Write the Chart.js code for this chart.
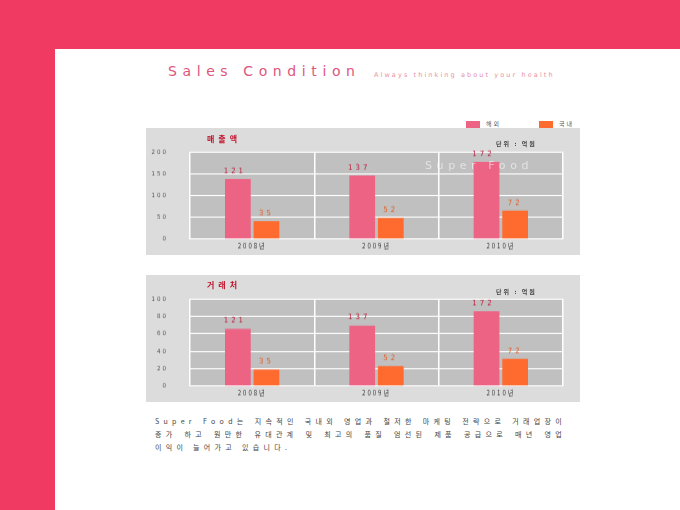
<!DOCTYPE html>
<html>
<head>
<meta charset="utf-8">
<script src="https://cdn.jsdelivr.net/npm/chart.js@4"></script>
<style>
  html, body { margin: 0; padding: 0; }
  body { width: 680px; height: 510px; background: #f03a62; position: relative; overflow: hidden;
         font-family: "Noto Sans CJK KR", "DejaVu Sans", sans-serif; }
  #sheet { position: absolute; left: 55px; top: 49px; width: 625px; height: 461px; background: #fff; }
  .abs { position: absolute; white-space: nowrap; }
  #title { left: 168px; top: 63px; font-family: "DejaVu Sans", sans-serif; font-size: 14px; letter-spacing: 5.6px; color: #e0557c; }
  #sub { left: 374px; top: 71px; font-family: "DejaVu Sans", sans-serif; font-size: 6.5px; letter-spacing: 2.1px; color: #e892a8; }
  .panel { position: absolute; left: 146px; width: 434px; height: 127px; background: #dcdcdc; }
  /* plot area comes out at 25.3..101.7 of the canvas, stretched to 24..111 here */
  .panel canvas { position: absolute; left: 0; top: 0; transform-origin: 0 0; transform: translateY(-4.81px) scaleY(1.1387); }
  .ctitle { position: absolute; left: 61px; top: 5px; font-size: 8px; font-weight: bold; letter-spacing: 4px; color: #c0102a; }
  .unit { position: absolute; left: 350px; top: 11px; font-size: 6px; font-weight: bold; letter-spacing: 2px; color: #444; }
  #legend { left: 466px; top: 119px; font-size: 6px; color: #555; letter-spacing: 2px; }
  .sw { display: inline-block; width: 14px; height: 7px; vertical-align: middle; margin-right: 6px; }
  #wm { left: 425px; top: 159px; font-family: "DejaVu Sans", sans-serif; font-size: 11px; letter-spacing: 4.6px; color: rgba(255,255,255,0.55); }
  #para { position: absolute; left: 155px; top: 415px; width: 411px; font-size: 7px; letter-spacing: 4.3px; color: #444; line-height: 13px; }
  #para div { text-align: justify; text-align-last: justify; white-space: nowrap; }
  #para div.last { text-align-last: left; }
</style>
</head>
<body>
<div id="sheet"></div>
<div class="abs" id="title">Sales Condition</div>
<div class="abs" id="sub">Always thinking about your health</div>
<div class="abs" id="legend"><span class="sw" style="background:#ec6384"></span>해외<span style="display:inline-block;width:38px"></span><span class="sw" style="background:#ff6a2e"></span>국내</div>

<div class="panel" style="top:128px">
  <canvas id="salesChart" width="434" height="127"></canvas>
  <div class="ctitle">매출액</div>
  <div class="unit">단위 : 억원</div>
</div>
<div class="abs" id="wm">Super Food</div>

<div class="panel" style="top:275px">
  <canvas id="clientChart" width="434" height="127"></canvas>
  <div class="ctitle" style="top:4px">거래처</div>
  <div class="unit" style="top:12px">단위 : 억원</div>
</div>

<div id="para">
  <div>Super Food는 지속적인 국내외 영업과 철저한 마케팅 전략으로 거래업장이</div>
  <div>증가 하고 원만한 유대관계 및 최고의 품질 엄선된 제품 공급으로 매년 영업</div>
  <div class="last">이익이 늘어가고 있습니다.</div>
</div>

<script>
const years = ['2008년', '2009년', '2010년'];
const seriesNames = ['해외', '국내'];

// bar heights as drawn in the picture
const salesOverseas = [138, 146, 177];
const salesDomestic = [41, 48, 65];
const clientOverseas = [65.6, 69.4, 86];
const clientDomestic = [19, 23, 31.3];

// value labels printed above the bars
const overseasLabels = ['121', '137', '172'];
const domesticLabels = ['35', '52', '72'];

const salesTicks = [0, 50, 100, 150, 200];
const clientTicks = [0, 20, 40, 60, 80, 100];

const pink = '#ec6384';
const orange = '#ff6a2e';

const plotBg = {
    id: 'plotBg',
    beforeDraw(chart) {
        const a = chart.chartArea;
        const ctx = chart.ctx;
        ctx.letterSpacing = '2px';
        ctx.save();
        ctx.fillStyle = '#c0c0c0';
        ctx.fillRect(a.left, a.top, a.right - a.left, a.bottom - a.top);
        ctx.restore();
    }
};

const valueLabels = {
    id: 'valueLabels',
    afterDatasetsDraw(chart) {
        const ctx = chart.ctx;
        ctx.save();
        ctx.font = '7px "DejaVu Sans", sans-serif';
        ctx.letterSpacing = '3px';
        ctx.textAlign = 'center';
        ctx.textBaseline = 'middle';
        [overseasLabels, domesticLabels].forEach((labels, di) => {
            const meta = chart.getDatasetMeta(di);
            meta.data.forEach((bar, i) => {
                ctx.fillStyle = di === 0 ? '#b8203c' : '#e0602a';
                const dx = di === 0 ? -3 : 0;
                ctx.fillText(labels[i], bar.x + dx, bar.y - 7);
            });
        });
        ctx.restore();
    }
};

function makeChart(id, overseas, domestic, ticks, max) {
    return new Chart(document.getElementById(id), {
        type: 'bar',
        data: {
            labels: years,
            datasets: [
                { label: seriesNames[0], data: overseas, backgroundColor: pink },
                { label: seriesNames[1], data: domestic, backgroundColor: orange }
            ]
        },
        options: {
            responsive: false,
            maintainAspectRatio: false,
            animation: false,
            layout: { autoPadding: false, padding: { top: 24, right: 17, left: 0, bottom: 0 } },
            categoryPercentage: 0.46,
            barPercentage: 0.9,
            plugins: { legend: { display: false }, tooltip: { enabled: false } },
            scales: {
                x: {
                    grid: { color: '#ffffff', lineWidth: 1.5, drawTicks: false, offset: true },
                    border: { display: false },
                    ticks: { color: '#333', font: { size: 6, family: '"Noto Sans CJK KR", sans-serif' }, padding: 2 },
                    afterFit(s) { s.height = 16; }
                },
                y: {
                    min: 0, max: max,
                    afterBuildTicks(s) { s.ticks = ticks.map(v => ({ value: v })); },
                    grid: { color: '#ffffff', lineWidth: 1, drawTicks: false },
                    border: { display: false },
                    ticks: { color: '#555', font: { size: 5.5, family: '"DejaVu Sans", sans-serif' }, padding: 22 },
                    afterFit(s) { s.width = 44; }
                }
            }
        },
        plugins: [plotBg, valueLabels]
    });
}

makeChart('salesChart', salesOverseas, salesDomestic, salesTicks, 200);
makeChart('clientChart', clientOverseas, clientDomestic, clientTicks, 100);
</script>
</body>
</html>
